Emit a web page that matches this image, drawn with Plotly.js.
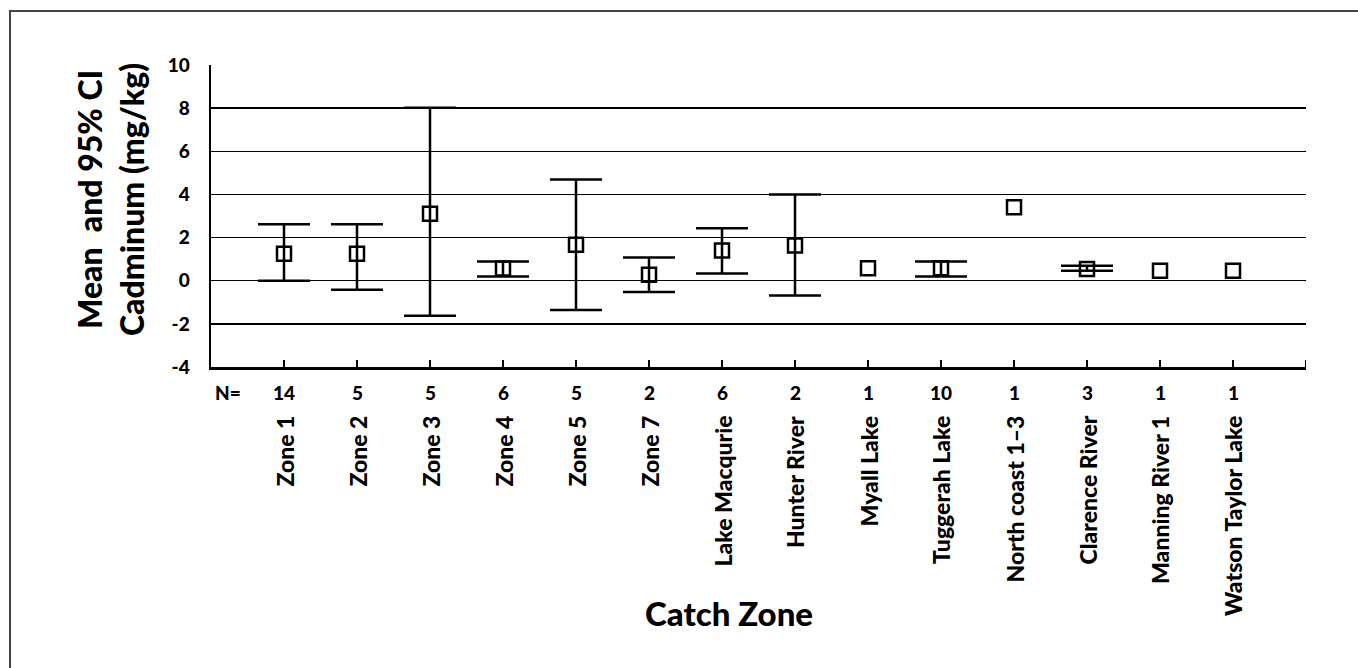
<!DOCTYPE html>
<html>
<head>
<meta charset="utf-8">
<script src="https://cdn.plot.ly/plotly-3.0.1.min.js"></script>
<style>html,body{margin:0;padding:0;background:#fff;}#chart{width:1358px;height:668px;}</style>
</head>
<body>
<div id="chart"></div>
<script>
const categories = ["Zone 1","Zone 2","Zone 3","Zone 4","Zone 5","Zone 7","Lake Macqurie","Hunter River","Myall Lake","Tuggerah Lake","North coast 1\u20133","Clarence River","Manning River 1","Watson Taylor Lake"];
const nValues = [14,5,5,6,5,2,6,2,1,10,1,3,1,1];
const means = [1.25,1.25,3.1,0.57,1.67,0.28,1.4,1.63,0.58,0.58,3.4,0.54,0.46,0.46];
const upperCI = [2.62,2.62,8.02,0.89,4.69,1.08,2.43,4.0,null,0.89,null,0.69,null,null];
const lowerCI = [0.0,-0.42,-1.62,0.2,-1.36,-0.52,0.34,-0.69,null,0.2,null,0.46,null,null];
const yTicks = [-4,-2,0,2,4,6,8,10];

const FONT = "Lato, 'Open Sans', sans-serif";
const W = 900;
const errPlus = means.map((m,i)=> upperCI[i]===null ? NaN : upperCI[i]-m);
const errMinus = means.map((m,i)=> lowerCI[i]===null ? NaN : m-lowerCI[i]);

const trace = {
  type: 'scatter', mode: 'markers',
  x: categories, y: means,
  marker: {symbol: 'square-open', size: 14, color: '#000', line: {width: 2.5, color: '#000'}},
  error_y: {type: 'data', symmetric: false, array: errPlus, arrayminus: errMinus,
            color: '#000', thickness: 2.5, width: 26, visible: true},
  showlegend: false, hoverinfo: 'skip'
};

const annotations = [];
categories.forEach((c,i)=>{
  annotations.push({x: c, xref: 'x', y: 0, yref: 'paper', yshift: -25, yanchor: 'middle', xanchor: 'center',
    text: String(nValues[i]), showarrow: false, font: {family: FONT, size: 19, color: '#000', weight: W}});
  annotations.push({x: c, xref: 'x', y: 0, yref: 'paper', yshift: -47, yanchor: 'top', xanchor: 'center',
    text: c, textangle: -90, showarrow: false, font: {family: FONT, size: 23, color: '#000', weight: W}});
});
annotations.push({x: 0, xref: 'paper', xanchor: 'left', xshift: 2, y: 0, yref: 'paper', yshift: -25, yanchor: 'middle',
  text: 'N=', showarrow: false, font: {family: FONT, size: 19, color: '#000', weight: W}});
annotations.push({x: (111-211)/1095, xref: 'paper', xanchor: 'center', y: (367-200)/302, yref: 'paper', yanchor: 'middle',
  text: 'Mean  and 95% CI<br>Cadminum (mg/kg)', textangle: -90, showarrow: false,
  font: {family: FONT, size: 32, color: '#000', weight: W}});
annotations.push({x: (729-211)/1095, xref: 'paper', xanchor: 'center', y: -(613-367)/302, yref: 'paper', yanchor: 'middle',
  text: 'Catch Zone', showarrow: false, font: {family: FONT, size: 33, color: '#000', weight: W}});

const layout = {
  width: 1358, height: 668,
  margin: {l: 211, r: 52, t: 65, b: 301},
  paper_bgcolor: '#fff', plot_bgcolor: '#fff',
  xaxis: {type: 'category', range: [-1, 14], showticklabels: false, ticks: 'inside', ticklen: 7, tickwidth: 2,
          tickcolor: '#000', showline: true, linewidth: 2.5, linecolor: '#000', showgrid: false, zeroline: false, fixedrange: true},
  yaxis: {range: [-4, 10], tickmode: 'array', tickvals: yTicks, ticktext: yTicks.map(String),
          showline: true, linewidth: 2.5, linecolor: '#000', showgrid: true, gridcolor: '#000', gridwidth: 1.3,
          zeroline: false, ticks: '', ticklabelstandoff: 15,
          tickfont: {family: FONT, size: 19, color: '#000', weight: W}, fixedrange: true},
  annotations: annotations,
  shapes: [
    {type: 'line', xref: 'x', yref: 'paper', x0: 14, x1: 14, y0: 0, y1: 7/302, line: {color: '#000', width: 2}},
    {type: 'rect', xref: 'paper', yref: 'paper', x0: (10-211)/1095, x1: 1.3, y0: -1.5, y1: (367-11)/302,
     line: {color: '#444', width: 2}, fillcolor: 'rgba(0,0,0,0)'}
  ]
};

Plotly.newPlot('chart', [trace], layout, {staticPlot: true, displayModeBar: false});
</script>
</body>
</html>
